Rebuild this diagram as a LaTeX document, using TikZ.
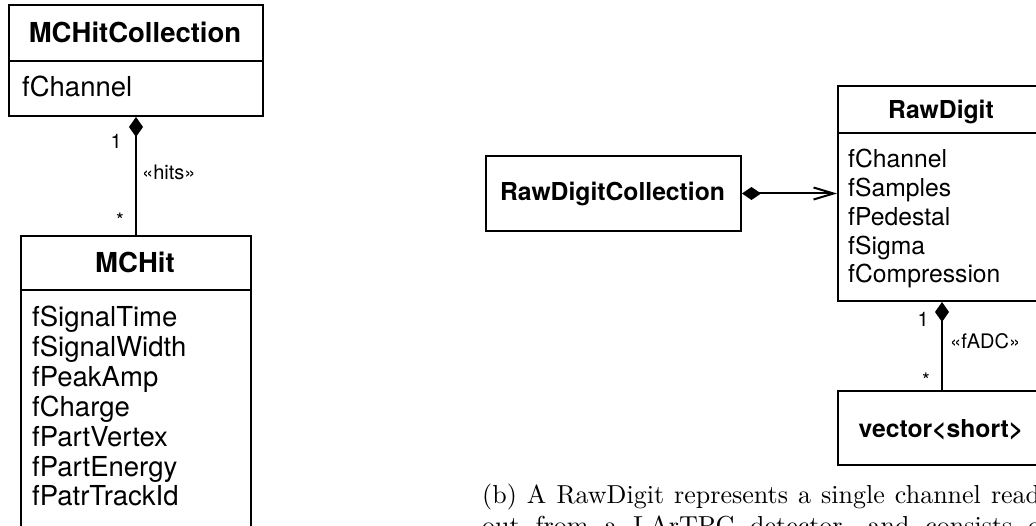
\documentclass[tikz,border=0pt]{standalone}
\usepackage{fontspec}
\setsansfont{TeX Gyre Heros}
\newfontfamily\capfont{lmroman10-regular.otf}
\usetikzlibrary{arrows.meta}
\begin{document}
\begin{tikzpicture}[x=1pt,y=-1pt,
  umlbox/.style={draw, line width=2pt, inner sep=0pt, anchor=north west},
  conn/.style={line width=2pt},
  divider/.style={line width=2pt},
  ltitle/.style={font=\sffamily\bfseries\fontsize{27.5}{30}\selectfont, inner sep=0pt, anchor=base},
  lattr/.style={font=\sffamily\fontsize{27.5}{30}\selectfont, inner sep=0pt, anchor=base west},
  rtitle/.style={font=\sffamily\bfseries\fontsize{24.7}{28}\selectfont, inner sep=0pt, anchor=base},
  rattr/.style={font=\sffamily\fontsize{24.7}{28}\selectfont, inner sep=0pt, anchor=base west},
  mult/.style={font=\sffamily\fontsize{20}{22}\selectfont, inner sep=0pt, anchor=base east},
  stereo/.style={font=\sffamily\fontsize{20}{22}\selectfont, inner sep=0pt, anchor=base west},
  captext/.style={font=\capfont\fontsize{26}{31}\selectfont, inner sep=0pt, anchor=base west},
  comp/.style={conn, {Diamond[length=20pt,width=14pt]}-},
  compnav/.style={conn, {Diamond[length=19pt,width=13pt]}-{Straight Barb[length=20pt,width=12pt]}}
]
\useasboundingbox (0,0) rectangle (1036,526);
\fill[white] (0,0) rectangle (1036,526);
\clip (0,0) rectangle (1036,526);

% ---- left diagram ----
\node[umlbox, minimum width=254pt, minimum height=111pt] (mhc) at (8,4) {};
\draw[divider] (8,61) -- (262,61);
\node[ltitle] (mhctitle) at (135,43) {MCHitCollection};
\node[lattr] (mhcch) at (22,97) {fChannel};

\node[umlbox, minimum width=230pt, minimum height=330pt] (mh) at (20,235) {};
\draw[divider] (20,290) -- (250,290);
\node[ltitle] (mhtitle) at (135,273) {MCHit};
\foreach \t [count=\i from 0] in {fSignalTime,fSignalWidth,fPeakAmp,fCharge,fPartVertex,fPartEnergy,fPatrTrackId}
  \node[lattr] (mha\i) at (32,327+\i*29.8) {\t};

\draw[comp] (mhc.south) -- (mh.north);
\node[mult] (mone) at (122,149) {1};
\node[mult] (mstar) at (124,228) {*};
\node[stereo] (hits) at (142,180) {«hits»};

% ---- right diagram ----
\node[umlbox, minimum width=255pt, minimum height=75pt] (rdc) at (485,155) {};
\node[rtitle] (rdctitle) at (612.5,201) {RawDigitCollection};

\node[umlbox, minimum width=208pt, minimum height=215pt] (rd) at (837,85) {};
\draw[divider] (837,133) -- (1045,133);
\node[rtitle] (rdtitle) at (941,119) {RawDigit};
\foreach \t [count=\i from 0] in {fChannel,fSamples,fPedestal,fSigma,fCompression}
  \node[rattr] (rda\i) at (848,168+\i*28.7) {\t};

\node[umlbox, minimum width=208pt, minimum height=74pt] (vec) at (837,390) {};
\node[rtitle] (vectitle) at (941,437) {vector<short>};

\draw[compnav] (rdc.east) -- (rd.west);
\draw[comp] (rd.south) -- (vec.north);
\node[mult] (rone) at (929,327) {1};
\node[mult] (rstar) at (930,388) {*};
\node[stereo] (fadc) at (950,349) {«fADC»};

% ---- caption ----
\node[captext] (cap1) at (482,503) {\makebox[558pt][s]{(b) A RawDigit represents a single channel read}};
\node[captext] (cap2) at (482,534) {\makebox[567pt][s]{out from a LArTPC detector, and consists of}};
\end{tikzpicture}
\end{document}
